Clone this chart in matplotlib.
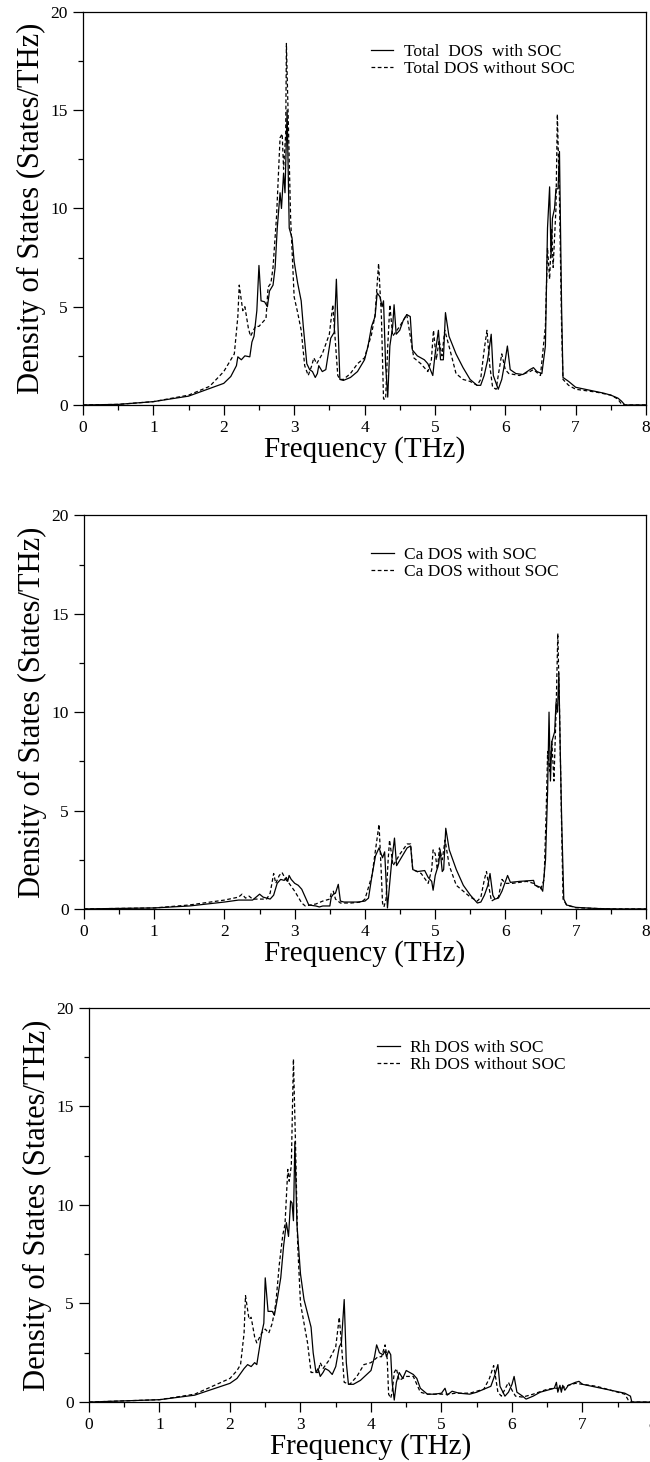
import matplotlib
matplotlib.use("Agg")
import matplotlib.pyplot as plt
from matplotlib.ticker import MultipleLocator

plt.rcParams['font.family'] = ['Liberation Serif', 'DejaVu Serif']

# phonon DOS, total / Ca / Rh, with and without spin-orbit coupling
total_soc_f = [0, 0.5, 1.0, 1.5, 2.0, 2.1, 2.18, 2.2, 2.25, 2.3, 2.37, 2.4, 2.43, 2.47, 2.5,
               2.53, 2.58, 2.62, 2.65, 2.7, 2.73, 2.76, 2.8, 2.82, 2.85, 2.87, 2.9, 2.93, 2.97,
               3.0, 3.05, 3.1, 3.13, 3.18, 3.22, 3.26, 3.3, 3.33, 3.35, 3.4, 3.45, 3.52, 3.57,
               3.6, 3.65, 3.7, 3.8, 3.9, 4.0, 4.05, 4.1, 4.15, 4.18, 4.22, 4.25, 4.27, 4.3,
               4.33, 4.36, 4.4, 4.42, 4.45, 4.5, 4.55, 4.6, 4.65, 4.68, 4.75, 4.8, 4.85, 4.9,
               4.97, 5.0, 5.05, 5.08, 5.12, 5.15, 5.2, 5.3, 5.4, 5.5, 5.6, 5.65, 5.7, 5.75,
               5.8, 5.83, 5.9, 5.95, 6.0, 6.03, 6.07, 6.15, 6.25, 6.35, 6.4, 6.45, 6.52, 6.57,
               6.6, 6.63, 6.65, 6.67, 6.7, 6.72, 6.75, 6.77, 6.8, 6.82, 6.9, 7.0, 7.2, 7.4,
               7.5, 7.6, 7.65, 7.7, 8.0]
total_soc_d = [0, 0.03, 0.17, 0.45, 1.1, 1.45, 2.0, 2.45, 2.3, 2.5, 2.45, 3.2, 3.5, 4.8, 7.1,
               5.3, 5.25, 5.0, 5.8, 6.1, 7.0, 9.0, 10.8, 10.0, 11.8, 10.8, 15.0, 9.0, 8.5,
               7.3, 6.2, 5.3, 4.0, 2.1, 1.8, 1.7, 1.4, 1.6, 2.0, 1.7, 1.8, 3.4, 3.7,
               6.4, 1.3, 1.25, 1.4, 1.7, 2.3, 3.0, 4.0, 4.5, 5.7, 5.5, 5.0, 5.3, 2.0,
               0.4, 3.0, 4.0, 5.1, 3.6, 3.8, 4.3, 4.6, 4.5, 2.8, 2.5, 2.4, 2.3, 2.1,
               1.5, 2.5, 3.8, 2.3, 2.3, 4.7, 3.5, 2.6, 1.9, 1.3, 1.0, 1.0, 1.5, 2.3,
               3.6, 1.5, 0.8, 1.3, 2.3, 3.0, 1.8, 1.6, 1.55, 1.8, 1.9, 1.7, 1.6, 3.0,
               9.0, 11.1, 7.5, 9.5, 10.0, 11.0, 11.0, 12.9, 5.0, 1.4, 1.2, 0.9, 0.75, 0.6,
               0.5, 0.35, 0.2, 0.0, 0.0]

total_nosoc_f = [0, 0.5, 1.0, 1.5, 1.8, 2.0, 2.1, 2.15, 2.2, 2.22, 2.27, 2.3, 2.35, 2.38, 2.45,
                 2.5, 2.55, 2.6, 2.63, 2.67, 2.7, 2.75, 2.8, 2.83, 2.85, 2.88, 2.89, 2.92, 2.95,
                 3.0, 3.05, 3.1, 3.15, 3.2, 3.25, 3.28, 3.32, 3.4, 3.5, 3.55, 3.58, 3.62, 3.65,
                 3.7, 3.8, 3.9, 4.0, 4.1, 4.15, 4.2, 4.24, 4.27, 4.3, 4.33, 4.36, 4.4, 4.5,
                 4.6, 4.65, 4.7, 4.8, 4.9, 4.95, 4.98, 5.02, 5.06, 5.1, 5.14, 5.2, 5.3, 5.4,
                 5.5, 5.6, 5.65, 5.7, 5.74, 5.78, 5.82, 5.87, 5.9, 5.95, 6.0, 6.05, 6.2, 6.35,
                 6.4, 6.5, 6.57, 6.6, 6.63, 6.66, 6.68, 6.7, 6.72, 6.74, 6.77, 6.8, 6.82, 6.9,
                 7.0, 7.3, 7.5, 7.6, 7.65, 7.7, 8.0]
total_nosoc_d = [0, 0.03, 0.17, 0.5, 0.95, 1.7, 2.3, 2.6, 4.5, 6.1, 4.8, 5.0, 3.9, 3.5, 4.0,
                 4.0, 4.2, 4.4, 6.0, 6.2, 7.0, 9.6, 13.6, 13.8, 12.0, 13.8, 18.4, 14.0, 9.5,
                 5.5, 4.7, 3.8, 2.0, 1.5, 2.0, 2.4, 2.1, 2.6, 3.6, 5.1, 3.5, 1.5, 1.3,
                 1.3, 1.6, 2.1, 2.4, 3.6, 4.6, 7.2, 4.5, 0.3, 0.3, 3.0, 5.1, 3.5, 4.0,
                 4.6, 3.5, 2.4, 2.1, 1.7, 2.3, 3.8, 2.3, 3.3, 2.5, 3.8, 3.0, 1.6, 1.3,
                 1.2, 1.0, 1.3, 2.8, 3.8, 2.0, 0.9, 0.8, 1.5, 2.6, 1.8, 1.6, 1.5, 1.7,
                 1.8, 1.5, 4.0, 8.0, 6.4, 9.0, 7.0, 8.5, 10.0, 14.8, 10.5, 4.0, 1.3, 1.0,
                 0.8, 0.65, 0.5, 0.3, 0.05, 0.0, 0.0]

ca_soc_f = [0, 1.0, 1.5, 2.0, 2.2, 2.4, 2.45, 2.5, 2.55, 2.65, 2.7, 2.75, 2.8, 2.85, 2.88,
            2.9, 2.92, 2.95, 3.0, 3.05, 3.1, 3.15, 3.2, 3.3, 3.35, 3.4, 3.5, 3.52, 3.55,
            3.58, 3.62, 3.65, 3.7, 3.9, 4.0, 4.05, 4.1, 4.15, 4.2, 4.25, 4.28, 4.32, 4.38,
            4.42, 4.45, 4.5, 4.55, 4.6, 4.65, 4.68, 4.75, 4.85, 4.9, 4.95, 4.97, 5.0, 5.05,
            5.07, 5.1, 5.12, 5.15, 5.2, 5.3, 5.4, 5.5, 5.6, 5.65, 5.7, 5.75, 5.78, 5.82,
            5.85, 5.9, 5.95, 6.0, 6.03, 6.07, 6.2, 6.4, 6.42, 6.5, 6.53, 6.57, 6.6, 6.62,
            6.64, 6.66, 6.7, 6.72, 6.74, 6.76, 6.78, 6.8, 6.83, 6.87, 7.0, 7.3, 7.6, 8.0]
ca_soc_d = [0, 0.05, 0.15, 0.35, 0.45, 0.45, 0.6, 0.75, 0.6, 0.5, 0.7, 1.3, 1.5, 1.45, 1.6,
            1.4, 1.7, 1.5, 1.3, 1.2, 1.0, 0.6, 0.2, 0.15, 0.1, 0.15, 0.15, 0.6, 0.75,
            0.8, 1.25, 0.4, 0.35, 0.35, 0.4, 0.55, 1.7, 2.7, 3.1, 2.6, 2.9, 0.05, 2.4,
            3.6, 2.2, 2.5, 2.8, 3.1, 3.2, 2.0, 1.9, 1.95, 1.6, 1.4, 0.95, 1.7, 2.3,
            3.0, 1.9, 2.0, 4.1, 3.0, 2.0, 1.2, 0.7, 0.3, 0.35, 0.7, 1.2, 1.8, 0.7,
            0.5, 0.55, 0.9, 1.4, 1.7, 1.35, 1.4, 1.45, 1.2, 1.1, 0.9, 2.5, 6.0, 10.0,
            6.5, 8.5, 9.0, 10.5, 10.0, 12.0, 8.0, 4.5, 0.5, 0.2, 0.08, 0.02, 0.0, 0.0]

ca_nosoc_f = [0, 1.0, 1.5, 2.0, 2.2, 2.25, 2.3, 2.35, 2.4, 2.6, 2.65, 2.7, 2.73, 2.78, 2.82,
              2.87, 2.92, 3.0, 3.1, 3.15, 3.3, 3.4, 3.5, 3.52, 3.55, 3.58, 3.65, 3.8, 3.95,
              4.0, 4.1, 4.15, 4.2, 4.23, 4.25, 4.27, 4.3, 4.33, 4.35, 4.4, 4.5, 4.6, 4.65,
              4.68, 4.8, 4.9, 4.95, 4.97, 5.0, 5.03, 5.06, 5.1, 5.14, 5.2, 5.3, 5.4, 5.5,
              5.6, 5.65, 5.7, 5.73, 5.77, 5.8, 5.9, 5.95, 6.0, 6.1, 6.3, 6.4, 6.5, 6.55,
              6.58, 6.6, 6.63, 6.66, 6.69, 6.72, 6.745, 6.77, 6.8, 6.82, 6.87, 7.0, 7.5, 8.0]
ca_nosoc_d = [0, 0.05, 0.2, 0.45, 0.6, 0.75, 0.55, 0.65, 0.5, 0.5, 0.8, 1.8, 1.3, 1.7, 1.85,
              1.5, 1.3, 0.9, 0.3, 0.15, 0.25, 0.4, 0.5, 0.8, 0.9, 0.5, 0.3, 0.3, 0.35,
              0.5, 1.7, 3.0, 4.3, 2.0, 0.3, 0.1, 0.5, 2.5, 3.5, 2.2, 2.8, 3.3, 3.3,
              2.0, 1.8, 1.3, 2.0, 3.0, 2.8, 2.0, 3.1, 2.5, 3.5, 2.2, 1.2, 0.9, 0.6,
              0.4, 0.6, 1.5, 1.9, 1.0, 0.4, 0.6, 1.5, 1.3, 1.3, 1.4, 1.3, 1.0, 1.5,
              5.0, 8.0, 7.0, 8.5, 6.5, 10.0, 14.0, 10.0, 4.0, 0.5, 0.2, 0.06, 0.0, 0.0]

rh_soc_f = [0, 1.0, 1.5, 2.0, 2.1, 2.2, 2.25, 2.3, 2.35, 2.38, 2.42, 2.45, 2.48, 2.5, 2.54,
            2.6, 2.63, 2.67, 2.72, 2.76, 2.8, 2.83, 2.86, 2.88, 2.9, 2.92, 2.95, 3.0, 3.05,
            3.1, 3.15, 3.18, 3.22, 3.25, 3.28, 3.32, 3.35, 3.4, 3.45, 3.5, 3.55, 3.58, 3.62,
            3.65, 3.68, 3.75, 3.85, 4.0, 4.05, 4.08, 4.12, 4.17, 4.2, 4.22, 4.25, 4.28, 4.3,
            4.33, 4.36, 4.4, 4.45, 4.5, 4.6, 4.65, 4.7, 4.8, 4.9, 5.0, 5.05, 5.08, 5.15,
            5.25, 5.4, 5.5, 5.6, 5.7, 5.76, 5.8, 5.83, 5.9, 5.95, 6.0, 6.03, 6.07, 6.15,
            6.2, 6.3, 6.4, 6.5, 6.6, 6.63, 6.65, 6.68, 6.7, 6.72, 6.75, 6.8, 6.9, 6.95,
            7.0, 7.2, 7.4, 7.6, 7.68, 7.7, 8.0]
rh_soc_d = [0, 0.12, 0.35, 0.95, 1.2, 1.7, 1.9, 1.8, 2.0, 1.9, 2.8, 3.5, 4.0, 6.3, 4.6,
            4.6, 4.4, 5.2, 6.3, 7.9, 9.1, 8.4, 10.2, 10.1, 9.2, 13.2, 9.0, 6.5, 5.2,
            4.5, 3.8, 2.5, 1.5, 1.7, 1.3, 1.5, 1.7, 1.6, 1.4, 1.8, 2.8, 3.0, 5.2,
            2.0, 0.9, 0.9, 1.1, 1.6, 2.3, 2.9, 2.5, 2.4, 2.6, 2.3, 2.6, 2.4, 1.0,
            0.1, 1.0, 1.5, 1.2, 1.6, 1.4, 1.2, 0.7, 0.4, 0.4, 0.45, 0.7, 0.35, 0.55,
            0.45, 0.4, 0.5, 0.65, 0.8, 1.4, 1.9, 0.8, 0.3, 0.5, 0.9, 1.3, 0.5, 0.3,
            0.15, 0.3, 0.5, 0.6, 0.7, 1.0, 0.5, 0.85, 0.5, 0.85, 0.6, 0.85, 1.0, 1.05,
            0.9, 0.75, 0.6, 0.45, 0.3, 0.0, 0.0]

rh_nosoc_f = [0, 1.0, 1.5, 2.0, 2.1, 2.15, 2.2, 2.22, 2.27, 2.3, 2.35, 2.38, 2.45, 2.5, 2.55,
              2.6, 2.65, 2.7, 2.75, 2.78, 2.82, 2.84, 2.87, 2.9, 2.93, 2.96, 3.0, 3.05, 3.1,
              3.15, 3.25, 3.28, 3.32, 3.4, 3.5, 3.55, 3.58, 3.62, 3.7, 3.8, 3.9, 4.0, 4.1,
              4.15, 4.2, 4.23, 4.25, 4.28, 4.3, 4.33, 4.36, 4.4, 4.5, 4.6, 4.7, 4.8, 5.0,
              5.1, 5.2, 5.4, 5.6, 5.68, 5.74, 5.77, 5.8, 5.85, 5.95, 6.0, 6.05, 6.15, 6.3,
              6.5, 6.6, 6.7, 6.8, 6.9, 7.0, 7.2, 7.4, 7.6, 7.65, 7.7, 8.0]
rh_nosoc_d = [0, 0.12, 0.4, 1.2, 1.6, 1.9, 3.5, 5.4, 4.2, 4.3, 3.3, 3.0, 3.5, 3.7, 3.5,
              4.0, 5.0, 7.0, 8.5, 9.0, 11.8, 11.2, 12.0, 17.4, 13.0, 8.0, 5.0, 4.0, 3.0,
              1.5, 1.5, 2.0, 1.7, 2.1, 2.8, 4.3, 3.0, 1.0, 0.9, 1.3, 1.9, 2.0, 2.3,
              2.3, 2.9, 2.2, 0.4, 0.2, 0.5, 1.5, 1.7, 1.1, 1.3, 1.3, 0.5, 0.4, 0.4,
              0.4, 0.45, 0.45, 0.65, 1.2, 1.85, 1.2, 0.5, 0.3, 1.0, 0.6, 0.3, 0.25, 0.4,
              0.65, 0.7, 0.7, 0.85, 0.95, 0.9, 0.8, 0.6, 0.4, 0.1, 0.0, 0.0]

panels = [
    ([0.1277, 0.7230, 0.8662, 0.2688], total_soc_f, total_soc_d, total_nosoc_f, total_nosoc_d,
     'Total  DOS  with SOC', 'Total DOS without SOC'),
    ([0.1292, 0.3783, 0.8646, 0.2692], ca_soc_f, ca_soc_d, ca_nosoc_f, ca_nosoc_d,
     'Ca DOS with SOC', 'Ca DOS without SOC'),
    ([0.1369, 0.0410, 0.8677, 0.2697], rh_soc_f, rh_soc_d, rh_nosoc_f, rh_nosoc_d,
     'Rh DOS with SOC', 'Rh DOS without SOC'),
]

fig = plt.figure(figsize=(6.5, 14.62), dpi=100)

for rect, f1, d1, f2, d2, lab1, lab2 in panels:
    ax = fig.add_axes(rect)
    ax.plot(f1, d1, color='black', lw=0.9, label=lab1)
    ax.plot(f2, d2, color='black', lw=0.9, linestyle=(0, (3, 2)), label=lab2)
    ax.set_xlim(0, 8)
    ax.set_ylim(0, 20)
    ax.xaxis.set_major_locator(MultipleLocator(1))
    ax.xaxis.set_minor_locator(MultipleLocator(0.5))
    ax.yaxis.set_major_locator(MultipleLocator(5))
    ax.yaxis.set_minor_locator(MultipleLocator(2.5))
    ax.tick_params(which='major', direction='out', length=7.5, width=0.9, labelsize=12.5, pad=3.5)
    ax.tick_params(which='minor', direction='out', length=3.8, width=0.9)
    for s in ax.spines.values():
        s.set_linewidth(0.9)
    ax.set_xlabel('Frequency (THz)', fontsize=21, labelpad=0)
    ax.set_ylabel('Density of States (States/THz)', fontsize=22, labelpad=3)
    ax.legend(loc='upper left', bbox_to_anchor=(0.499, 0.937), frameon=False, fontsize=12.5,
              handlelength=1.3, handletextpad=0.6, labelspacing=0.05, borderaxespad=0)

fig.savefig('out.png', dpi=100)
